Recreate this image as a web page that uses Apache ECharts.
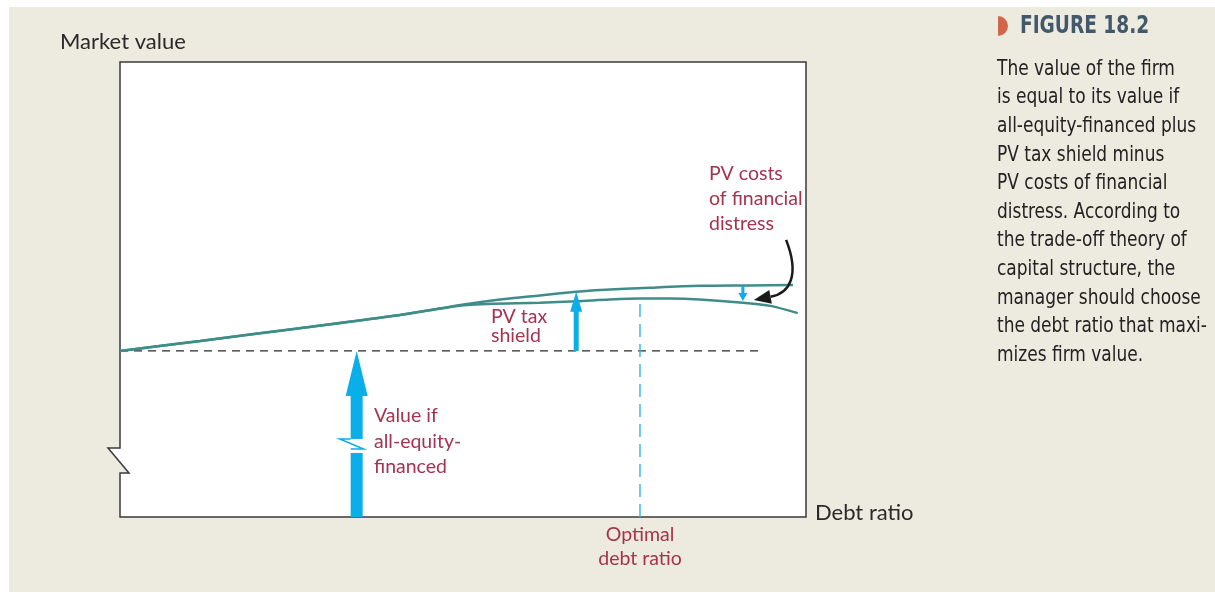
<!DOCTYPE html>
<html>
<head>
<meta charset="utf-8">
<script src="https://cdn.jsdelivr.net/npm/echarts@6/dist/echarts.min.js"></script>
<style>
html, body { margin: 0; padding: 0; background: #fff; }
#chart { width: 1215px; height: 593px; }
</style>
</head>
<body>
<div id="chart"></div>
<script>
// debt ratio on x (0-100), market value on y (0-100)
const shieldX = [0, 11.7, 26.2, 40.8, 50.6, 55.4, 61.2, 66.5, 70.0, 77.3, 84.5, 91.8, 98.1];
const shieldY = [36.5, 38.7, 41.5, 44.4, 46.8, 47.8, 48.7, 49.5, 49.9, 50.4, 50.8, 50.9, 51.0];
const firmX = [0, 11.7, 26.2, 40.8, 50.6, 61.2, 66.5, 71.4, 75.8, 80.2, 84.5, 90.8, 94.8, 98.8];
const firmY = [36.5, 38.7, 41.5, 44.4, 46.6, 47.1, 47.4, 47.8, 48.0, 48.0, 47.8, 47.1, 46.4, 44.8];

const equityValue = 36.5;
const equityLineEnd = 93.3;
const optimalX = 75.8;
const optimalY = 48.0;

// arrows: x, from, to
const arrowX = [34.5, 66.5, 90.8];
const arrowFrom = [0, 36.5, 50.8];
const arrowTo = [36.5, 49.5, 47.5];

// curved pointer to the distress gap (cubic bezier: start, ctrl1, ctrl2, end)
const pointerX = [97.1, 99.1, 97.7, 92.4];
const pointerY = [60.9, 53.2, 49.2, 47.7];

const labels = ["Market value", "Debt ratio", "Optimal\ndebt ratio", "PV tax\nshield",
    "Value if\nall-equity-\nfinanced", "PV costs\nof financial\ndistress"];
const captionTitle = "FIGURE 18.2";
const captionLines = ["The value of the firm", "is equal to its value if", "all-equity-financed plus",
    "PV tax shield minus", "PV costs of financial", "distress. According to", "the trade-off theory of",
    "capital structure, the", "manager should choose", "the debt ratio that maxi-", "mizes firm value."];

const TEAL = "#3f8d89";
const BLUE = "#0aaee8";
const RED = "#a5334f";
const INK = "#2a2a2a";
const NARROW = "'Liberation Sans Narrow', 'DejaVu Sans Condensed', sans-serif";
const G = { left: 120, top: 62, width: 686, height: 455 };
const GR = G.left + G.width, GB = G.top + G.height;

const arrowStyle = [
    { shaft: 12, head: 22, headLen: 45, brk: true },
    { shaft: 5, head: 12, headLen: 20 },
    { shaft: 3, head: 9, headLen: 8 },
];

var chart = echarts.init(document.getElementById("chart"));

function textEl(x, y, text, opt, scaleX) {
    return {
        type: "text",
        x: x,
        y: y,
        scaleX: scaleX || 1,
        style: Object.assign({
            text: text,
            fill: RED,
            font: "19.5px Lato",
            lineHeight: 25,
            verticalAlign: "top",
        }, opt || {}),
    };
}

var option = {
    backgroundColor: "#fff",
    animation: false,
    grid: { left: G.left, top: G.top, width: G.width, height: G.height },
    xAxis: { type: "value", min: 0, max: 100, show: false },
    yAxis: { type: "value", min: 0, max: 100, show: false },
    graphic: [
        { type: "rect", shape: { x: 9, y: 7, width: 1206, height: 585 }, style: { fill: "#edeadf" } },
        {
            type: "polygon",
            shape: {
                points: [[G.left, G.top], [GR, G.top], [GR, GB], [G.left, GB], [G.left, 473],
                    [G.left + 9, 473], [G.left - 12, 448], [G.left, 448]],
            },
            style: { fill: "#fff", stroke: "#3a3a3a", lineWidth: 1.5 },
        },
        textEl(60, 29, labels[0], { fill: INK, font: "22px Lato", lineHeight: 26 }),
        textEl(815, 500, labels[1], { fill: INK, font: "22px Lato", lineHeight: 26 }),
        textEl(640, 523, labels[2], { align: "center", lineHeight: 24 }),
        textEl(491, 307, labels[3], { lineHeight: 19 }),
        textEl(374, 403, labels[4], { lineHeight: 25.5 }),
        textEl(709, 161, labels[5], { lineHeight: 25 }),
        {
            type: "sector",
            shape: { cx: 998, cy: 26, r0: 0, r: 10, startAngle: -Math.PI / 2, endAngle: Math.PI / 2, clockwise: true },
            style: { fill: "#cf6748" },
        },
        textEl(1020, 12, captionTitle, { fill: "#41596a", font: "bold 24px " + NARROW, lineHeight: 30 }, 0.86),
        textEl(997, 55, captionLines.join("\n"), { fill: "#222", font: "21px " + NARROW, lineHeight: 28.6 }, 0.9),
    ],
    series: [
        {
            name: "Equity value",
            type: "line",
            data: [[0, equityValue], [equityLineEnd, equityValue]],
            showSymbol: false,
            lineStyle: { color: INK, width: 1.2, type: [8, 6] },
            z: 1,
        },
        {
            name: "Optimal",
            type: "line",
            data: [[optimalX, 0], [optimalX, optimalY]],
            showSymbol: false,
            lineStyle: { color: "#3bb8ea", width: 1.5, type: [13, 7] },
            z: 1,
        },
        {
            name: "With tax shield",
            type: "line",
            data: shieldX.map((x, i) => [x, shieldY[i]]),
            smooth: 0.3,
            showSymbol: false,
            lineStyle: { color: TEAL, width: 2.5 },
        },
        {
            name: "Firm value",
            type: "line",
            data: firmX.map((x, i) => [x, firmY[i]]),
            smooth: 0.3,
            showSymbol: false,
            lineStyle: { color: TEAL, width: 2.5 },
        },
        {
            name: "Arrows",
            type: "custom",
            data: arrowX.map((x, i) => [x, arrowFrom[i], arrowTo[i]]),
            z: 5,
            renderItem: function (params, api) {
                var s = arrowStyle[params.dataIndex];
                var base = api.coord([api.value(0), api.value(1)]);
                var tip = api.coord([api.value(0), api.value(2)]);
                var cx = base[0];
                var dir = tip[1] < base[1] ? 1 : -1; // 1 = pointing up
                var neck = tip[1] + dir * s.headLen;
                var w = s.shaft / 2, h = s.head / 2;
                var children = [{
                    type: "polygon",
                    shape: {
                        points: [[cx - w, base[1]], [cx - w, neck], [cx - h, neck], [cx, tip[1]],
                            [cx + h, neck], [cx + w, neck], [cx + w, base[1]]],
                    },
                    style: { fill: BLUE },
                }];
                if (s.brk) {
                    var gT = base[1] + (tip[1] - base[1]) * 0.47;
                    children.push({
                        type: "rect",
                        shape: { x: cx - w - 1, y: gT, width: s.shaft + 2, height: 14 },
                        style: { fill: "#fff" },
                    });
                    children.push({
                        type: "polyline",
                        shape: { points: [[cx - w, gT], [cx - w - 11, gT], [cx + w + 1, gT + 10], [cx - w, gT + 10]] },
                        style: { stroke: BLUE, lineWidth: 1.5, fill: null },
                    });
                }
                return { type: "group", children: children };
            },
        },
        {
            name: "Pointer",
            type: "custom",
            data: [[0]],
            z: 5,
            renderItem: function (params, api) {
                var p = pointerX.map((x, i) => api.coord([x, pointerY[i]]));
                var dx = p[3][0] - p[2][0], dy = p[3][1] - p[2][1];
                var len = Math.sqrt(dx * dx + dy * dy);
                var ux = dx / len, uy = dy / len;
                var L = 17, hw = 7;
                var bx = p[3][0] - ux * L, by = p[3][1] - uy * L;
                return {
                    type: "group",
                    children: [
                        {
                            type: "bezierCurve",
                            shape: {
                                x1: p[0][0], y1: p[0][1], cpx1: p[1][0], cpy1: p[1][1],
                                cpx2: p[2][0], cpy2: p[2][1], x2: bx, y2: by,
                            },
                            style: { stroke: "#1a1a1a", lineWidth: 2.5, fill: null },
                        },
                        {
                            type: "polygon",
                            shape: { points: [p[3], [bx - uy * hw, by + ux * hw], [bx + uy * hw, by - ux * hw]] },
                            style: { fill: "#1a1a1a" },
                        },
                    ],
                };
            },
        },
    ],
};

chart.setOption(option);
</script>
</body>
</html>
